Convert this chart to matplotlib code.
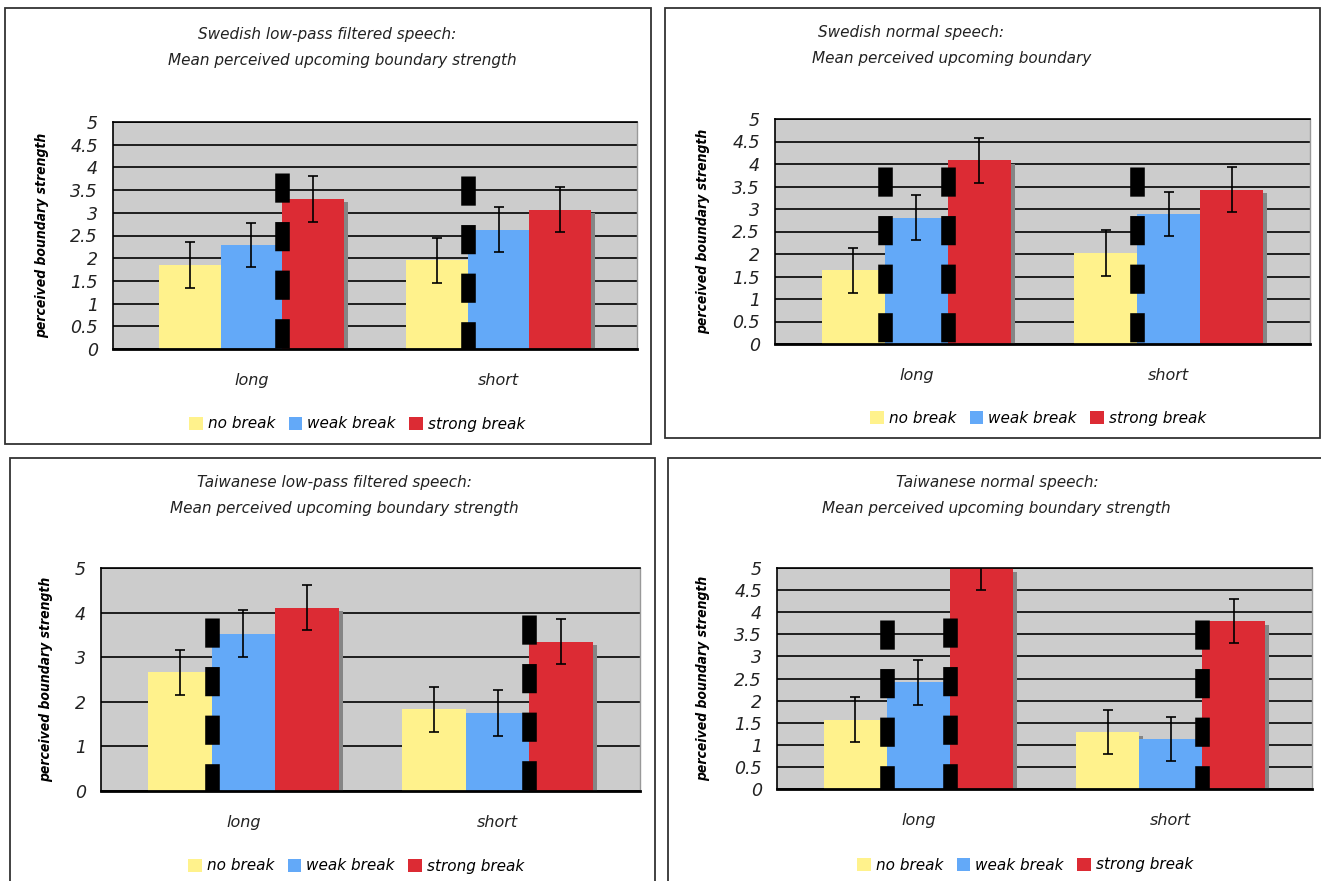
import numpy as np
import matplotlib
matplotlib.use('Agg')
import matplotlib.pyplot as plt
from matplotlib.patches import Rectangle, Patch
from matplotlib import font_manager

W, H = 1321, 881

groups = ['long', 'short']
series = ['no break', 'weak break', 'strong break']
colors = ['#fff28c', '#63a9f8', '#dc2b34']

# means / error half-widths: one row per series, one column per group (long, short)
sw_lp_means = [[1.85, 1.95], [2.29, 2.63], [3.31, 3.07]]
sw_lp_errs = [[0.51, 0.50], [0.49, 0.50], [0.51, 0.50]]
sw_nm_means = [[1.64, 2.03], [2.81, 2.88], [4.08, 3.43]]
sw_nm_errs = [[0.50, 0.51], [0.50, 0.49], [0.50, 0.50]]
tw_lp_means = [[2.66, 1.83], [3.53, 1.75], [4.11, 3.35]]
tw_lp_errs = [[0.50, 0.50], [0.52, 0.52], [0.51, 0.50]]
tw_nm_means = [[1.57, 1.29], [2.41, 1.13], [5.00, 3.80]]
tw_nm_errs = [[0.51, 0.50], [0.50, 0.50], [0.50, 0.50]]

# significance marks: (group, boundary 0=no/weak 1=weak/strong, top)
sw_lp_marks = [(0, 1, 3.88), (1, 0, 3.81)]
sw_nm_marks = [(0, 0, 3.94), (0, 1, 3.93), (1, 0, 3.93)]
tw_lp_marks = [(0, 0, 3.89), (1, 1, 3.95)]
tw_nm_marks = [(0, 0, 3.83), (0, 1, 3.87), (1, 1, 3.82)]

titles = [
    ('Swedish low-pass filtered speech:', 'Mean perceived upcoming boundary strength'),
    ('Swedish normal speech:', 'Mean perceived upcoming boundary'),
    ('Taiwanese low-pass filtered speech:', 'Mean perceived upcoming boundary strength'),
    ('Taiwanese normal speech:', 'Mean perceived upcoming boundary strength'),
]
ylabel = 'perceived boundary strength'

panels = [
    dict(means=sw_lp_means, errs=sw_lp_errs, marks=sw_lp_marks, step=0.5,
         box=(5, 8, 651, 444), ax=(113, 122, 637, 349), tx=(327, 342), ty=(35, 60),
         lx=42, leg=(357, 424)),
    dict(means=sw_nm_means, errs=sw_nm_errs, marks=sw_nm_marks, step=0.5,
         box=(665, 8, 1320, 438), ax=(775, 119, 1310, 344), tx=(911, 952), ty=(33, 58),
         lx=703, leg=(1038, 418)),
    dict(means=tw_lp_means, errs=tw_lp_errs, marks=tw_lp_marks, step=1.0,
         box=(10, 458, 655, 895), ax=(101, 568, 640, 791), tx=(334, 344), ty=(483, 508),
         lx=46, leg=(356, 866)),
    dict(means=tw_nm_means, errs=tw_nm_errs, marks=tw_nm_marks, step=0.5,
         box=(668, 458, 1335, 895), ax=(777, 568, 1312, 789), tx=(997, 996), ty=(483, 508),
         lx=703, leg=(1025, 865)),
]

# a narrow face for the rotated axis label, if one is installed
names = {f.name for f in font_manager.fontManager.ttflist}
narrow = [n for n in ['Liberation Sans Narrow', 'DejaVu Sans Condensed'] if n in names]
label_family = narrow + ['DejaVu Sans']
label_size = 11 if narrow else 10

plt.rcParams['font.family'] = 'DejaVu Sans'

fig = plt.figure(figsize=(W / 100, H / 100), dpi=100)


def fx(px):
    return px / W


def fy(py):
    return 1 - py / H


bw = 0.25
x = np.arange(len(groups))

for i, p in enumerate(panels):
    # panel frame
    l, t, r, b = p['box']
    fig.patches.append(Rectangle((fx(l), fy(b)), fx(r - l), (b - t) / H,
                                 transform=fig.transFigure, fill=False,
                                 edgecolor='#333333', linewidth=1.3))

    l, t, r, b = p['ax']
    ax = fig.add_axes([fx(l), fy(b), fx(r - l), (b - t) / H])
    ax.set_facecolor('#cccccc')
    ax.set_xlim(-0.56, 1.56)
    ax.set_ylim(0, 5)

    yt = np.arange(0, 5 + 1e-9, p['step'])
    ax.set_yticks(yt)
    ax.set_yticklabels([f'{v:g}' for v in yt], fontstyle='italic', fontsize=12.5,
                       color='#222222')
    ax.set_xticks(x)
    ax.set_xticklabels(groups, fontstyle='italic', fontsize=11.5, color='#222222')
    ax.tick_params(axis='y', length=0, pad=11)
    ax.tick_params(axis='x', length=0, pad=17)
    ax.set_axisbelow(True)
    ax.yaxis.grid(True, color='black', linewidth=1.2)

    for s in ['left', 'top']:
        ax.spines[s].set_color('black')
        ax.spines[s].set_linewidth(1.2)
    ax.spines['bottom'].set_linewidth(2)
    ax.spines['right'].set_color('#999999')
    ax.spines['right'].set_linewidth(1.0)

    handles = []
    for k, name in enumerate(series):
        pos = x + (k - 1) * bw
        # drop shadow behind each bar
        ax.bar(pos + 0.016, np.array(p['means'][k]) - 0.08, bw, bottom=0,
               color='#858585', zorder=1.5)
        ax.bar(pos, p['means'][k], bw, color=colors[k], zorder=2, label=name)
        ax.errorbar(pos, p['means'][k], yerr=p['errs'][k], fmt='none',
                    ecolor='black', elinewidth=1.2, capsize=3.4, capthick=1.2, zorder=3)
        handles.append(Patch(facecolor=colors[k], edgecolor='none'))

    for g, bnd, top in p['marks']:
        xm = x[g] + (bnd - 0.5) * bw
        ax.plot([xm, xm], [top, 0], color='black', linewidth=10.5,
                dashes=(2.0, 1.33), solid_capstyle='butt', zorder=4)

    fig.text(fx(p['tx'][0]), fy(p['ty'][0]), titles[i][0], ha='center', va='center',
             fontstyle='italic', fontsize=11, color='#222222')
    fig.text(fx(p['tx'][1]), fy(p['ty'][1]), titles[i][1], ha='center', va='center',
             fontstyle='italic', fontsize=11, color='#222222')
    fig.text(fx(p['lx']), fy((t + b) / 2), ylabel, rotation=90, ha='center', va='center',
             family=label_family, fontweight='bold', fontstyle='italic',
             fontstretch='condensed', fontsize=label_size)

    ax.legend(handles, series, loc='center', ncol=3, frameon=False,
              bbox_to_anchor=(fx(p['leg'][0]), fy(p['leg'][1])),
              bbox_transform=fig.transFigure,
              prop={'style': 'italic', 'size': 11},
              handlelength=0.9, handleheight=0.9, handletextpad=0.3,
              columnspacing=0.9, borderpad=0)

fig.savefig('out.png', dpi=100)
